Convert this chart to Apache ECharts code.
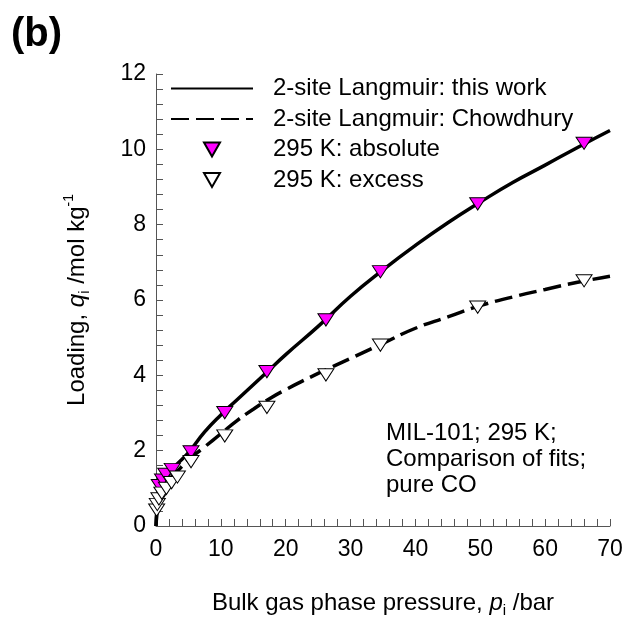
<!DOCTYPE html>
<html>
<head>
<meta charset="utf-8">
<script src="https://cdn.jsdelivr.net/npm/echarts@6/dist/echarts.min.js"></script>
<style>
  html, body { margin: 0; padding: 0; background: #fff; }
  #chart { width: 628px; height: 618px; }
</style>
</head>
<body>
<div id="chart"></div>
<script>
// MIL-101, CO at 295 K: measured loadings and two 2-site Langmuir fits
const fitPressure = [0, 0.3, 0.7, 1.5, 3, 5, 7.5, 10, 12.5, 15, 17.5, 20, 25, 30, 35, 40, 45, 50, 55, 60, 65, 70];
const fitThisWork = [0, 0.7, 1.0, 1.3, 1.6, 1.95, 2.5, 2.95, 3.35, 3.75, 4.15, 4.55, 5.3, 6.1, 6.8, 7.45, 8.05, 8.6, 9.12, 9.58, 10.05, 10.5];
const fitChowdhury = [0, 0.6, 0.9, 1.15, 1.4, 1.75, 2.1, 2.45, 2.8, 3.1, 3.38, 3.62, 4.05, 4.45, 4.85, 5.25, 5.55, 5.85, 6.08, 6.28, 6.47, 6.63];

const pressureAbsolute = [0.5, 1.0, 1.5, 2.5, 5.4, 10.6, 17.1, 26.2, 34.6, 49.6, 66.0];
const loadingAbsolute = [1.07, 1.22, 1.37, 1.50, 1.97, 3.01, 4.10, 5.47, 6.75, 8.55, 10.16];

const pressureExcess = [0.1, 0.2, 0.45, 0.9, 1.6, 2.4, 3.3, 5.4, 10.6, 17.1, 26.2, 34.6, 49.6, 66.0];
const loadingExcess = [0.42, 0.57, 0.72, 0.87, 1.0, 1.15, 1.3, 1.71, 2.39, 3.15, 4.01, 4.80, 5.81, 6.51];

const xTicks = [0, 10, 20, 30, 40, 50, 60, 70];
const yTicks = [0, 2, 4, 6, 8, 10, 12];

const seriesNames = ['2-site Langmuir: this work', '2-site Langmuir: Chowdhury', '295 K: absolute', '295 K: excess'];

const FONT = 'Liberation Sans, Arial, sans-serif';
const downTriangle = 'path://M0,0L16,0L8,14Z';

const pairs = (xs, ys) => xs.map((x, i) => [x, ys[i]]);

const axisCommon = {
  axisLine: { show: true, lineStyle: { color: '#555', width: 1 } },
  axisTick: { show: true, inside: true, length: 7, lineStyle: { color: '#555', width: 1 } },
  minorTick: { show: true, splitNumber: 5, length: 7, lineStyle: { color: '#555', width: 1 } },
  splitLine: { show: false },
  axisLabel: { color: '#000', fontFamily: FONT, fontSize: 23 }
};

const nameRich = {
  n: { fontFamily: FONT, fontSize: 24, color: '#000', lineHeight: 30 },
  it: { fontFamily: FONT, fontSize: 24, fontStyle: 'italic', color: '#000', lineHeight: 30 },
  sub: { fontFamily: FONT, fontSize: 15, color: '#000', verticalAlign: 'bottom', lineHeight: 14 },
  sup: { fontFamily: FONT, fontSize: 14, color: '#000', verticalAlign: 'top', lineHeight: 14 }
};

// line entries in the legend show only the stroke, no point symbol
const lineLegendItem = name => ({ name: name, itemStyle: { opacity: 0 } });

const chart = echarts.init(document.getElementById('chart'), null, { renderer: 'canvas' });

chart.setOption({
  backgroundColor: '#fff',
  animation: false,
  title: {
    text: '(b)',
    left: 6,
    top: 10,
    textStyle: { fontFamily: FONT, fontSize: 40, fontWeight: 'bold', color: '#000' }
  },
  grid: { left: 156, right: 18, top: 74, bottom: 92, containLabel: false, outerBoundsMode: 'none' },
  legend: {
    orient: 'vertical',
    left: 165,
    top: 71.5,
    itemWidth: 82,
    itemHeight: 14,
    itemGap: 6.5,
    symbolKeepAspect: true,
    data: [lineLegendItem(seriesNames[0]), lineLegendItem(seriesNames[1]), seriesNames[2], seriesNames[3]],
    textStyle: { fontFamily: FONT, fontSize: 24, color: '#000', padding: [0, 0, 0, 15] }
  },
  xAxis: Object.assign({}, axisCommon, {
    type: 'value',
    min: xTicks[0],
    max: xTicks[xTicks.length - 1],
    interval: 10,
    axisLabel: Object.assign({}, axisCommon.axisLabel, { margin: 12 }),
    name: '{n|Bulk gas phase pressure, }{it|p}{sub|i}{n| /bar}',
    nameLocation: 'middle',
    nameGap: 62,
    nameTextStyle: { rich: nameRich }
  }),
  yAxis: Object.assign({}, axisCommon, {
    type: 'value',
    min: yTicks[0],
    max: yTicks[yTicks.length - 1],
    interval: 2,
    axisLabel: Object.assign({}, axisCommon.axisLabel, { margin: 10 }),
    name: '{n|Loading, }{it|q}{sub|i}{n| /mol kg}{sup|-1}',
    nameLocation: 'middle',
    nameGap: 64,
    nameRotate: 90,
    nameTextStyle: { rich: nameRich }
  }),
  series: [
    {
      name: seriesNames[0],
      type: 'line',
      data: pairs(fitPressure, fitThisWork),
      smooth: true,
      symbol: 'none',
      lineStyle: { color: '#000', width: 3.5, type: 'solid' },
      itemStyle: { color: '#000' },
      z: 2
    },
    {
      name: seriesNames[1],
      type: 'line',
      data: pairs(fitPressure, fitChowdhury),
      smooth: true,
      symbol: 'none',
      lineStyle: { color: '#000', width: 3.5, type: [18, 7] },
      itemStyle: { color: '#000' },
      z: 2
    },
    {
      name: seriesNames[2],
      type: 'scatter',
      data: pairs(pressureAbsolute, loadingAbsolute),
      symbol: downTriangle,
      symbolSize: [16, 14],
      symbolKeepAspect: true,
      itemStyle: { color: '#ff00ff', borderColor: '#000', borderWidth: 1, opacity: 1 },
      z: 3
    },
    {
      name: seriesNames[3],
      type: 'scatter',
      data: pairs(pressureExcess, loadingExcess),
      symbol: downTriangle,
      symbolSize: [16, 14],
      symbolKeepAspect: true,
      itemStyle: { color: '#fff', borderColor: '#000', borderWidth: 1, opacity: 1 },
      z: 4
    }
  ],
  graphic: [
    {
      type: 'text',
      left: 386,
      top: 420,
      style: {
        text: 'MIL-101; 295 K;\nComparison of fits;\npure CO',
        fontFamily: FONT,
        fontSize: 24,
        lineHeight: 26,
        fill: '#000'
      }
    }
  ]
});
</script>
</body>
</html>
